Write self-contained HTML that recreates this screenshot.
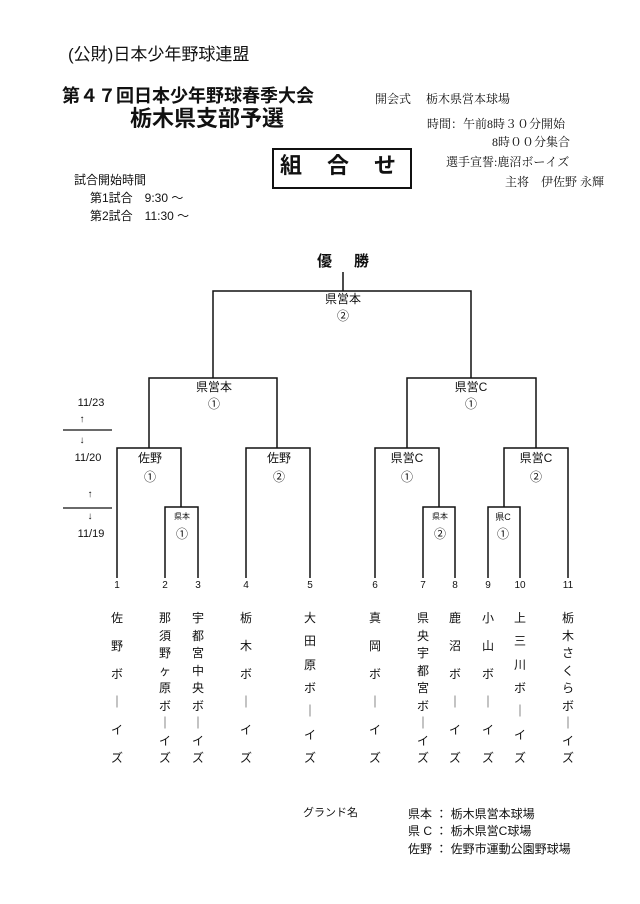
<!DOCTYPE html>
<html><head><meta charset="utf-8"><style>
body{margin:0;width:640px;height:904px;background:#fff;position:relative;overflow:hidden;font-family:"Liberation Sans","Noto Sans CJK JP",sans-serif;color:#111}
.t{position:absolute;white-space:nowrap;line-height:1}
.s{font-family:"Liberation Serif","Noto Serif CJK SC",serif}
.c{transform:translateX(-50%)}
.col{position:absolute;top:612px;height:152px;display:flex;flex-direction:column;justify-content:space-between;align-items:center;width:16px;margin-left:-8px;font-size:12px;line-height:1}
</style></head><body>
<div class="t" style="left:68px;top:46px;font-size:17px">(公財)日本少年野球連盟</div>
<div class="t" style="left:62px;top:87px;font-size:18px;font-weight:bold">第４７回日本少年野球春季大会</div>
<div class="t" style="left:130px;top:108px;font-size:22px;font-weight:bold">栃木県支部予選</div>
<div class="t s" style="left:375px;top:93px;font-size:12px">開会式　 栃木県営本球場</div>
<div class="t s" style="left:427px;top:118px;font-size:12px">時間：午前8時３０分開始</div>
<div class="t s" style="left:492px;top:136px;font-size:12px">8時００分集合</div>
<div class="t s" style="left:446px;top:156px;font-size:12px">選手宣誓:鹿沼ボーイズ</div>
<div class="t s" style="left:505px;top:176px;font-size:12px">主将　伊佐野 永輝</div>
<div style="position:absolute;left:272px;top:148px;width:136px;height:37px;border:2px solid #111"></div>
<div class="t" style="left:280px;top:155px;font-size:22px;font-weight:bold;letter-spacing:25px">組合せ</div>
<div class="t" style="left:74px;top:174px;font-size:12px">試合開始時間</div>
<div class="t" style="left:90px;top:192px;font-size:12px">第1試合　9:30 ～</div>
<div class="t" style="left:90px;top:210px;font-size:12px">第2試合　11:30 ～</div>
<div class="t c" style="left:343px;top:254px;font-size:15px;font-weight:bold;letter-spacing:22px;margin-left:11px">優勝</div>
<svg style="position:absolute;left:0;top:0" width="640" height="904" fill="none" stroke="#111" stroke-width="1.5">
<path d="M343 272V291M213 378V291H471V378"/>
<path d="M149 448V378H277V448M407 448V378H536V448"/>
<path d="M117 578V448H181V507M246 578V448H310V578M375 578V448H439V507M504 507V448H568V578"/>
<path d="M165 578V507H198V578M423 578V507H455V578M488 578V507H520V578"/>
<path d="M63 430H112M63 508H112" stroke-width="1.2"/>
</svg>
<div class="t c" style="left:343px;top:293px;font-size:12px">県営本</div>
<div class="t c" style="left:343px;top:310px;font-size:12px">②</div>
<div class="t c" style="left:214px;top:381px;font-size:12px">県営本</div>
<div class="t c" style="left:214px;top:398px;font-size:12px">①</div>
<div class="t c" style="left:471px;top:381px;font-size:12px">県営C</div>
<div class="t c" style="left:471px;top:398px;font-size:12px">①</div>
<div class="t c" style="left:150px;top:452px;font-size:12px">佐野</div>
<div class="t c" style="left:150px;top:471px;font-size:12px">①</div>
<div class="t c" style="left:279px;top:452px;font-size:12px">佐野</div>
<div class="t c" style="left:279px;top:471px;font-size:12px">②</div>
<div class="t c" style="left:407px;top:452px;font-size:12px">県営C</div>
<div class="t c" style="left:407px;top:471px;font-size:12px">①</div>
<div class="t c" style="left:536px;top:452px;font-size:12px">県営C</div>
<div class="t c" style="left:536px;top:471px;font-size:12px">②</div>
<div class="t c" style="left:182px;top:513px;font-size:8px">県本</div>
<div class="t c" style="left:182px;top:528px;font-size:12px">①</div>
<div class="t c" style="left:440px;top:513px;font-size:8px">県本</div>
<div class="t c" style="left:440px;top:528px;font-size:12px">②</div>
<div class="t c" style="left:503px;top:513px;font-size:9px">県C</div>
<div class="t c" style="left:503px;top:528px;font-size:12px">①</div>
<div class="t c" style="left:91px;top:398px;font-size:11px">11/23</div>
<div class="t c" style="left:82px;top:415px;font-size:10px">↑</div>
<div class="t c" style="left:82px;top:436px;font-size:10px">↓</div>
<div class="t c" style="left:88px;top:453px;font-size:11px">11/20</div>
<div class="t c" style="left:90px;top:490px;font-size:10px">↑</div>
<div class="t c" style="left:90px;top:512px;font-size:10px">↓</div>
<div class="t c" style="left:91px;top:529px;font-size:11px">11/19</div>
<div class="t c" style="left:117px;top:581px;font-size:10px">1</div>
<div class="t c" style="left:165px;top:581px;font-size:10px">2</div>
<div class="t c" style="left:198px;top:581px;font-size:10px">3</div>
<div class="t c" style="left:246px;top:581px;font-size:10px">4</div>
<div class="t c" style="left:310px;top:581px;font-size:10px">5</div>
<div class="t c" style="left:375px;top:581px;font-size:10px">6</div>
<div class="t c" style="left:423px;top:581px;font-size:10px">7</div>
<div class="t c" style="left:455px;top:581px;font-size:10px">8</div>
<div class="t c" style="left:488px;top:581px;font-size:10px">9</div>
<div class="t c" style="left:520px;top:581px;font-size:10px">10</div>
<div class="t c" style="left:568px;top:581px;font-size:10px">11</div>
<div class="col" style="left:117px"><span>佐</span><span>野</span><span>ボ</span><span>｜</span><span>イ</span><span>ズ</span></div>
<div class="col" style="left:165px"><span>那</span><span>須</span><span>野</span><span>ヶ</span><span>原</span><span>ボ</span><span>｜</span><span>イ</span><span>ズ</span></div>
<div class="col" style="left:198px"><span>宇</span><span>都</span><span>宮</span><span>中</span><span>央</span><span>ボ</span><span>｜</span><span>イ</span><span>ズ</span></div>
<div class="col" style="left:246px"><span>栃</span><span>木</span><span>ボ</span><span>｜</span><span>イ</span><span>ズ</span></div>
<div class="col" style="left:310px"><span>大</span><span>田</span><span>原</span><span>ボ</span><span>｜</span><span>イ</span><span>ズ</span></div>
<div class="col" style="left:375px"><span>真</span><span>岡</span><span>ボ</span><span>｜</span><span>イ</span><span>ズ</span></div>
<div class="col" style="left:423px"><span>県</span><span>央</span><span>宇</span><span>都</span><span>宮</span><span>ボ</span><span>｜</span><span>イ</span><span>ズ</span></div>
<div class="col" style="left:455px"><span>鹿</span><span>沼</span><span>ボ</span><span>｜</span><span>イ</span><span>ズ</span></div>
<div class="col" style="left:488px"><span>小</span><span>山</span><span>ボ</span><span>｜</span><span>イ</span><span>ズ</span></div>
<div class="col" style="left:520px"><span>上</span><span>三</span><span>川</span><span>ボ</span><span>｜</span><span>イ</span><span>ズ</span></div>
<div class="col" style="left:568px"><span>栃</span><span>木</span><span>さ</span><span>く</span><span>ら</span><span>ボ</span><span>｜</span><span>イ</span><span>ズ</span></div>
<div class="t" style="left:303px;top:808px;font-size:11px">グランド名</div>
<div class="t" style="left:408px;top:808px;font-size:12px">県本 ： 栃木県営本球場</div>
<div class="t" style="left:408px;top:825px;font-size:12px">県 C ： 栃木県営C球場</div>
<div class="t" style="left:408px;top:843px;font-size:12px">佐野 ： 佐野市運動公園野球場</div>
</body></html>
